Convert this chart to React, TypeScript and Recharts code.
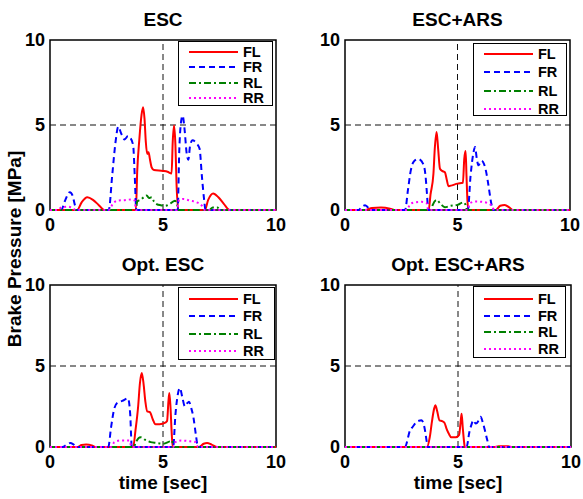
import React from 'react';
import { LineChart, Line, XAxis, YAxis, ReferenceLine, ReferenceArea } from 'recharts';

const FONT = '"Liberation Sans", Arial, Helvetica, sans-serif';

// ---------- data: [time (s), brake pressure (MPa)] ----------
const escFL = [[0,0],[1.2,0],[1.4,0.45],[1.65,0.75],[1.9,0.6],[2.15,0.3],[2.4,0],[3.8,0],[3.86,2.3],[3.95,4.1],[4.05,5.6],[4.12,6.05],[4.18,5.4],[4.24,4.0],[4.3,3.3],[4.36,3.4],[4.42,3.0],[4.5,2.5],[4.6,2.35],[5.0,2.3],[5.2,2.25],[5.38,2.15],[5.43,4.0],[5.49,4.97],[5.55,3.8],[5.6,1.5],[5.68,0],[6.85,0],[7.0,0.6],[7.22,0.97],[7.45,0.75],[7.7,0.35],[7.95,0],[10,0]];
const escFR = [[0,0],[0.5,0],[0.65,0.5],[0.88,1.05],[1.0,0.85],[1.1,0.3],[1.2,0],[2.6,0],[2.75,2.0],[2.9,4.0],[3.02,4.9],[3.15,4.5],[3.3,4.15],[3.45,4.35],[3.55,4.25],[3.68,3.8],[3.75,2.0],[3.82,0],[5.65,0],[5.72,3.5],[5.8,5.2],[5.87,5.55],[5.95,4.8],[6.05,3.3],[6.12,2.95],[6.2,3.8],[6.3,4.1],[6.5,3.9],[6.62,3.6],[6.72,2.0],[6.82,0.6],[6.88,0],[10,0]];
const escRL = [[0,0],[3.8,0],[3.86,0.5],[4.0,0.6],[4.15,0.75],[4.28,0.85],[4.38,0.7],[4.5,0.75],[4.6,0.5],[4.72,0.35],[4.9,0.28],[5.1,0.25],[5.35,0.4],[5.53,0.55],[5.63,0.3],[5.68,0],[7.05,0],[7.2,0.15],[7.4,0.15],[7.55,0],[10,0]];
const escRR = [[0,0],[0.35,0],[0.5,0.15],[0.8,0.2],[1.0,0.1],[1.15,0],[2.6,0],[2.8,0.4],[3.0,0.55],[3.3,0.58],[3.6,0.62],[3.75,0.55],[3.8,0],[5.62,0],[5.7,0.55],[5.9,0.65],[6.2,0.55],[6.5,0.45],[6.7,0.28],[6.85,0],[10,0]];

const arsFL = [[0,0],[0.9,0],[1.2,0.12],[1.6,0.15],[2.0,0.08],[2.2,0],[3.72,0],[3.8,0.9],[3.93,2.13],[3.99,3.6],[4.07,4.59],[4.14,3.6],[4.22,2.43],[4.32,2.3],[4.44,2.22],[4.52,1.8],[4.6,1.4],[4.75,1.45],[5.0,1.55],[5.24,1.6],[5.3,3.0],[5.36,3.47],[5.4,2.0],[5.44,0.6],[5.48,0],[6.7,0],[6.9,0.25],[7.1,0.3],[7.3,0.15],[7.45,0],[10,0]];
const arsFR = [[0,0],[0.6,0],[0.75,0.18],[0.89,0.28],[1.0,0.18],[1.12,0],[2.67,0],[2.8,1.2],[2.92,2.3],[3.04,2.82],[3.26,3.0],[3.48,2.7],[3.58,2.0],[3.64,1.0],[3.7,0],[5.46,0],[5.58,2.0],[5.7,3.31],[5.78,3.7],[5.86,3.0],[5.93,2.63],[6.07,2.9],[6.18,2.7],[6.28,2.2],[6.37,1.5],[6.5,0.4],[6.58,0],[10,0]];
const arsRL = [[0,0],[3.82,0],[3.9,0.3],[4.07,0.59],[4.25,0.35],[4.44,0.16],[4.7,0.25],[5.0,0.3],[5.26,0.45],[5.36,0.3],[5.42,0],[10,0]];
const arsRR = [[0,0],[2.75,0],[2.9,0.35],[3.1,0.45],[3.4,0.48],[3.62,0.42],[3.7,0],[5.45,0],[5.55,0.4],[5.8,0.5],[6.1,0.48],[6.35,0.4],[6.55,0.2],[6.62,0],[10,0]];

const optFL = [[0,0],[1.2,0],[1.4,0.12],[1.6,0.15],[1.85,0.1],[2.0,0],[3.68,0],[3.78,1.0],[3.9,2.5],[3.98,3.95],[4.06,4.57],[4.14,3.9],[4.22,2.8],[4.3,2.2],[4.42,2.15],[4.55,1.7],[4.67,1.4],[4.85,1.4],[5.1,1.5],[5.18,1.6],[5.24,2.8],[5.28,3.33],[5.33,2.5],[5.38,1.0],[5.43,0],[6.6,0],[6.8,0.2],[6.95,0.25],[7.15,0.15],[7.4,0],[10,0]];
const optFR = [[0,0],[0.55,0],[0.75,0.15],[0.9,0.25],[1.05,0.15],[1.2,0],[2.58,0],[2.7,1.2],[2.85,2.4],[3.0,2.75],[3.2,2.85],[3.45,3.0],[3.55,2.0],[3.62,0],[5.45,0],[5.55,2.0],[5.65,3.2],[5.75,3.64],[5.85,3.1],[5.97,2.5],[6.07,2.7],[6.15,2.8],[6.25,2.4],[6.35,1.8],[6.45,0.8],[6.55,0],[10,0]];
const optRL = [[0,0],[3.7,0],[3.8,0.3],[4.0,0.6],[4.2,0.45],[4.45,0.3],[4.7,0.25],[5.0,0.2],[5.3,0.35],[5.4,0.4],[5.45,0],[10,0]];
const optRR = [[0,0],[2.7,0],[2.85,0.3],[3.1,0.4],[3.5,0.4],[3.62,0],[5.45,0],[5.55,0.3],[5.8,0.4],[6.2,0.35],[6.45,0.3],[6.55,0],[10,0]];

const optArsFL = [[0,0],[3.63,0],[3.75,0.6],[3.85,1.6],[3.95,2.4],[4.0,2.58],[4.08,2.2],[4.18,1.65],[4.3,1.6],[4.4,1.5],[4.5,1.1],[4.6,0.8],[4.7,0.6],[4.9,0.6],[5.05,0.75],[5.12,1.6],[5.16,2.06],[5.21,1.2],[5.27,0.3],[5.3,0],[6.6,0],[6.8,0.05],[7.2,0.05],[7.4,0],[10,0]];
const optArsFR = [[0,0],[2.65,0],[2.88,1.03],[3.0,1.25],[3.17,1.55],[3.39,1.65],[3.54,1.03],[3.62,0.3],[3.67,0],[5.38,0],[5.5,0.9],[5.6,1.4],[5.68,1.65],[5.78,1.45],[5.85,1.5],[6.0,1.86],[6.1,1.5],[6.19,1.03],[6.3,0.4],[6.38,0],[10,0]];
const optArsRL = [[0,0],[10,0]];
const optArsRR = [[0,0],[10,0]];

const SERIES_NAMES = ['FL', 'FR', 'RL', 'RR'];
const TICKS = [0, 5, 10];
// ---------------------------------------------------------

const STYLES: Record<string, { color: string; dash?: string }> = {
  FL: { color: '#ff0000' },
  FR: { color: '#0000ff', dash: '6 4' },
  RL: { color: '#008000', dash: '7 3 2 3' },
  RR: { color: '#ff00ff', dash: '2 3' },
};

const toPts = (a: number[][]) => a.map(([t, v]) => ({ t, v }));

type LegendCfg = { left: number; top: number; width: number; height: number; first: number; gap: number };

function Legend({ cfg }: { cfg: LegendCfg }) {
  return (
    <div
      style={{
        position: 'absolute',
        left: cfg.left,
        top: cfg.top,
        width: cfg.width,
        height: cfg.height,
        border: '1px solid #000',
        background: '#fff',
        boxSizing: 'border-box',
      }}
    >
      {SERIES_NAMES.map((n, i) => (
        <div key={n} style={{ position: 'absolute', left: 0, top: cfg.first + i * cfg.gap - 7, height: 14, width: cfg.width - 2 }}>
          <svg width={60} height={14} style={{ position: 'absolute', left: 8, top: 0 }}>
            <line x1={2} x2={51} y1={7} y2={7} stroke={STYLES[n].color} strokeWidth={2} strokeDasharray={STYLES[n].dash} />
          </svg>
          <span
            style={{
              position: 'absolute',
              left: 64,
              top: 0,
              height: 14,
              lineHeight: '14px',
              fontFamily: FONT,
              fontWeight: 'bold',
              fontSize: 14.5,
              color: '#000',
            }}
          >
            {n}
          </span>
        </div>
      ))}
    </div>
  );
}

type PanelProps = {
  x: number;
  y: number;
  w: number;
  h: number;
  m: { top: number; right: number; bottom: number; left: number };
  title: string;
  titleCenterY: number;
  data: number[][][];
  legend: LegendCfg;
  xLabel?: boolean;
  xLabelCenterY?: number;
};

const tickStyle = { fill: '#000', fontSize: 18, fontWeight: 'bold', fontFamily: FONT };

function Panel(p: PanelProps) {
  const plotLeft = p.m.left + 50;
  const plotW = p.w - p.m.right - plotLeft;
  return (
    <div style={{ position: 'absolute', left: p.x, top: p.y, width: p.w, height: p.h }}>
      <LineChart width={p.w} height={p.h} margin={p.m} style={{ fontFamily: FONT }}>
        <XAxis
          type="number"
          dataKey="t"
          domain={[0, 10]}
          ticks={TICKS}
          interval={0}
          axisLine={false}
          tickLine={false}
          tickSize={0}
          tickMargin={8}
          height={30}
          tick={tickStyle}
        />
        <YAxis
          type="number"
          dataKey="v"
          domain={[0, 10]}
          ticks={TICKS}
          interval={0}
          axisLine={false}
          tickLine={false}
          tickSize={0}
          tickMargin={5}
          width={50}
          tick={tickStyle}
        />
        <ReferenceLine x={5} stroke="#111" strokeWidth={1} strokeDasharray="6 4" />
        <ReferenceLine y={5} stroke="#111" strokeWidth={1} strokeDasharray="6 4" />
        <ReferenceArea x1={0} x2={10} y1={0} y2={10} fill="none" fillOpacity={0} stroke="#000" strokeWidth={1.5} />
        {SERIES_NAMES.map((n, i) => (
          <Line
            key={n}
            data={toPts(p.data[i])}
            dataKey="v"
            type="monotone"
            stroke={STYLES[n].color}
            strokeWidth={2}
            strokeDasharray={STYLES[n].dash}
            dot={false}
            activeDot={false}
            isAnimationActive={false}
          />
        ))}
      </LineChart>
      <div
        style={{
          position: 'absolute',
          left: plotLeft,
          width: plotW,
          top: p.titleCenterY - p.y - 10,
          lineHeight: '20px',
          textAlign: 'center',
          fontFamily: FONT,
          fontWeight: 'bold',
          fontSize: 19,
          color: '#000',
          whiteSpace: 'nowrap',
        }}
      >
        {p.title}
      </div>
      {p.xLabel && (
        <div
          style={{
            position: 'absolute',
            left: plotLeft,
            width: plotW,
            top: (p.xLabelCenterY as number) - p.y - 10,
            lineHeight: '20px',
            textAlign: 'center',
            fontFamily: FONT,
            fontWeight: 'bold',
            fontSize: 19,
            color: '#000',
            whiteSpace: 'nowrap',
          }}
        >
          time [sec]
        </div>
      )}
      <Legend cfg={{ ...p.legend, left: p.legend.left - p.x, top: p.legend.top - p.y }} />
    </div>
  );
}

export default function App() {
  return (
    <div style={{ position: 'absolute', left: 0, top: 0, width: 583, height: 499, background: '#fff', overflow: 'hidden' }}>
      <Panel
        x={0}
        y={0}
        w={300}
        h={250}
        m={{ top: 40, right: 24, bottom: 10, left: 0 }}
        title="ESC"
        titleCenterY={20}
        data={[escFL, escFR, escRL, escRR]}
        legend={{ left: 178, top: 41, width: 95, height: 65, first: 10, gap: 15.3 }}
      />
      <Panel
        x={295}
        y={0}
        w={300}
        h={250}
        m={{ top: 40, right: 25, bottom: 10, left: 0 }}
        title="ESC+ARS"
        titleCenterY={20}
        data={[arsFL, arsFR, arsRL, arsRR]}
        legend={{ left: 473, top: 43, width: 94, height: 73, first: 10, gap: 18.3 }}
      />
      <Panel
        x={0}
        y={250}
        w={300}
        h={249}
        m={{ top: 35, right: 24, bottom: 22, left: 0 }}
        title="Opt. ESC"
        titleCenterY={265}
        data={[optFL, optFR, optRL, optRR]}
        legend={{ left: 178, top: 287, width: 97, height: 73, first: 11, gap: 17.3 }}
        xLabel
        xLabelCenterY={483}
      />
      <Panel
        x={295}
        y={250}
        w={300}
        h={249}
        m={{ top: 35, right: 24, bottom: 22, left: 0 }}
        title="Opt. ESC+ARS"
        titleCenterY={265}
        data={[optArsFL, optArsFR, optArsRL, optArsRR]}
        legend={{ left: 473, top: 286, width: 93, height: 72, first: 12, gap: 16.7 }}
        xLabel
        xLabelCenterY={483}
      />
      <div
        style={{
          position: 'absolute',
          left: 15 - 110,
          top: 249 - 10,
          width: 220,
          lineHeight: '20px',
          textAlign: 'center',
          transform: 'rotate(-90deg)',
          fontFamily: FONT,
          fontWeight: 'bold',
          fontSize: 19,
          color: '#000',
          whiteSpace: 'nowrap',
        }}
      >
        Brake Pressure [MPa]
      </div>
    </div>
  );
}
